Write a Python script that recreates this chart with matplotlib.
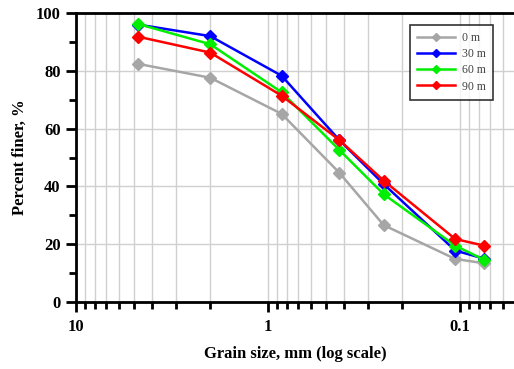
import matplotlib
matplotlib.use("Agg")
import matplotlib.pyplot as plt
from matplotlib.ticker import FixedLocator, LogLocator, NullFormatter, FixedFormatter

# Sieve sizes (mm) and percent finer for each distance
grain_size = [4.75, 2.0, 0.85, 0.425, 0.25, 0.106, 0.075]
series_labels = ["0 m", "30 m", "60 m", "90 m"]
finer_0m = [82.4, 77.6, 65.1, 44.7, 26.6, 14.9, 13.4]
finer_30m = [96.0, 92.0, 78.3, 56.0, 40.8, 17.8, 15.0]
finer_60m = [96.2, 89.2, 72.6, 52.6, 37.3, 19.5, 14.6]
finer_90m = [91.8, 86.3, 71.4, 56.0, 42.0, 21.8, 19.5]
colors = ["#a6a6a6", "#0000ff", "#00ee00", "#ff0000"]

plt.rcParams["font.family"] = "Liberation Serif"

fig = plt.figure(figsize=(5.14, 3.69), dpi=100)
ax = fig.add_axes([76 / 514, 1 - 302 / 369, 438 / 514, 289 / 369])

for vals, lab, c in zip([finer_0m, finer_30m, finer_60m, finer_90m], series_labels, colors):
    ax.plot(grain_size, vals, color=c, lw=1.8, marker="D", ms=6, label=lab)

ax.set_xscale("log")
ax.set_xlim(10, 0.0524)
ax.set_ylim(0, 100)

ax.xaxis.set_major_locator(FixedLocator([10, 1, 0.1]))
ax.xaxis.set_major_formatter(FixedFormatter(["10", "1", "0.1"]))
ax.xaxis.set_minor_locator(LogLocator(base=10, subs=range(2, 10), numticks=20))
ax.xaxis.set_minor_formatter(NullFormatter())
ax.set_yticks([0, 20, 40, 60, 80, 100])
ax.set_yticks([10, 30, 50, 70, 90], minor=True)

ax.grid(True, which="both", axis="x", color="#d0d0d0", lw=1)
ax.grid(True, which="major", axis="y", color="#d0d0d0", lw=1)
ax.set_axisbelow(True)

for s in ["left", "bottom", "top"]:
    ax.spines[s].set_linewidth(2)
ax.spines["right"].set_visible(False)

ax.tick_params(axis="both", which="major", direction="out", length=7, width=2,
               labelsize=12, pad=4)
ax.tick_params(axis="both", which="minor", direction="out", length=5, width=2)
ax.tick_params(axis="x", which="major", pad=5)
for t in ax.get_xticklabels() + ax.get_yticklabels():
    t.set_fontweight("bold")

ax.set_xlabel("Grain size, mm (log scale)", fontsize=12, fontweight="bold", labelpad=8)
ax.set_ylabel("Percent finer, %", fontsize=12, fontweight="bold", labelpad=6)

leg = ax.legend(loc="upper right", bbox_to_anchor=(0.952, 0.958), fontsize=8.5,
                frameon=True, fancybox=False, edgecolor="black", handlelength=3.2,
                handletextpad=0.6, markerscale=0.7, borderpad=0.6,
                labelspacing=0.35, borderaxespad=0)
leg.get_frame().set_linewidth(1.2)
for t in leg.get_texts():
    t.set_color("#444444")

fig.savefig("out.png", dpi=100)
